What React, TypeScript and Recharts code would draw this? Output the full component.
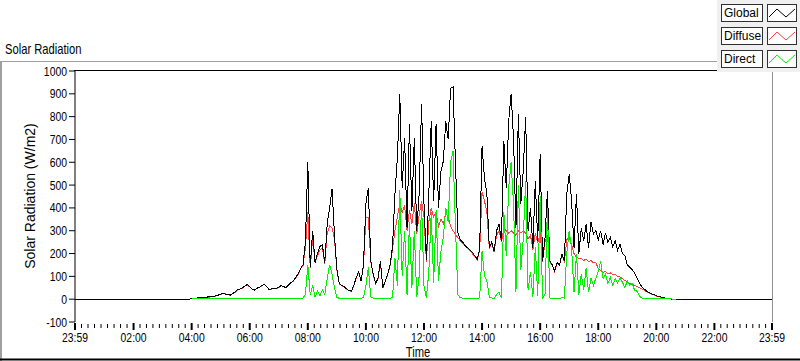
import React from 'react';
import { LineChart, Line, XAxis, YAxis } from 'recharts';

const FONT = "'Liberation Sans', Arial, sans-serif";
const NARROW = 0.8; // the original UI font is a narrow sans

// samples every 5 minutes, from 04:00 to 20:40
const startMinute = 240;
const stepMinutes = 5;

const globalWm2 = [
  2, 4, 5, 6, 8, 8, 9, 10, 10, 12, 15, 18, // 04
  22, 25, 22, 20, 18, 25, 32, 42, 45, 50, 58, 64, // 05
  55, 45, 40, 48, 52, 60, 66, 55, 42, 45, 48, 47, // 06
  52, 60, 55, 50, 62, 72, 80, 95, 110, 135, 150, 250, // 07
  600, 140, 300, 160, 200, 230, 240, 160, 330, 400, 484, 285, // 08
  130, 70, 60, 55, 45, 38, 35, 60, 95, 120, 80, 150, // 09
  420, 488, 170, 110, 70, 90, 165, 50, 80, 110, 150, 230, // 10
  460, 620, 899, 487, 706, 312, 767, 386, 706, 300, 460, 855, // 11
  420, 170, 460, 780, 430, 767, 400, 561, 605, 780, 700, 925, // 12
  930, 600, 290, 260, 250, 235, 225, 215, 205, 190, 175, 220, // 13
  670, 530, 460, 225, 250, 210, 300, 330, 254, 693, 487, 780, // 14
  900, 706, 312, 811, 417, 561, 800, 300, 400, 225, 518, 254, // 15
  636, 167, 268, 474, 167, 150, 123, 160, 150, 197, 167, 460, // 16
  548, 430, 225, 460, 200, 312, 254, 330, 225, 340, 285, 300, // 17
  260, 300, 240, 290, 250, 270, 230, 255, 215, 240, 200, 190, // 18
  150, 140, 130, 115, 95, 70, 55, 45, 35, 28, 24, 20, // 19
  15, 12, 9, 6, 4, 2, 1, 0, 0, // 20
];

const diffuseWm2 = [
  1, 3, 4, 5, 7, 8, 8, 9, 10, 11, 14, 17,
  21, 24, 23, 19, 17, 24, 31, 41, 44, 49, 57, 62,
  54, 44, 41, 47, 51, 59, 64, 56, 41, 44, 47, 46,
  51, 61, 54, 49, 61, 70, 79, 93, 108, 133, 145, 225,
  380, 135, 270, 158, 190, 215, 225, 155, 290, 320, 312, 265,
  128, 68, 59, 54, 44, 37, 34, 59, 93, 118, 79, 145,
  360, 360, 165, 108, 69, 88, 160, 49, 78, 108, 145, 220,
  300, 360, 420, 380, 410, 300, 390, 330, 420, 285, 370, 430,
  360, 165, 340, 400, 360, 380, 320, 350, 330, 380, 360, 320,
  300, 285, 270, 255, 245, 232, 222, 212, 200, 186, 172, 212,
  470, 430, 380, 220, 245, 205, 280, 300, 250, 310, 300, 290,
  300, 290, 280, 300, 290, 300, 290, 265, 280, 218, 290, 245,
  290, 165, 250, 280, 165, 148, 121, 157, 148, 190, 165, 260,
  270, 240, 200, 185, 178, 180, 170, 175, 165, 170, 160, 160,
  135, 125, 118, 120, 112, 115, 108, 110, 100, 98, 90, 82,
  75, 70, 65, 60, 55, 50, 45, 40, 33, 27, 22, 18,
  14, 11, 8, 5, 3, 2, 1, 0, 0,
];

const directWm2 = [
  2, 2, 2, 2, 2, 2, 2, 2, 2, 2, 2, 2,
  2, 2, 2, 2, 2, 2, 2, 2, 2, 2, 2, 2,
  2, 2, 2, 2, 2, 2, 2, 2, 2, 2, 2, 2,
  2, 2, 2, 2, 2, 2, 3, 3, 3, 4, 5, 20,
  150, 20, 60, 10, 35, 15, 40, 20, 90, 150, 110, 50,
  8, 4, 3, 3, 3, 3, 3, 3, 4, 5, 4, 6,
  60, 140, 10, 4, 3, 3, 5, 3, 2, 3, 4, 6,
  180, 60, 480, 100, 300, 20, 340, 50, 300, 10, 100, 420,
  60, 5, 120, 380, 70, 390, 80, 210, 270, 400, 340, 600,
  650, 320, 20, 6, 5, 5, 4, 4, 5, 4, 3, 6,
  210, 100, 80, 8, 5, 4, 20, 30, 5, 380, 190, 490,
  600, 420, 30, 500, 130, 260, 520, 40, 120, 10, 230, 15,
  450, 5, 20, 400, 5, 3, 3, 4, 3, 6, 5, 200,
  300, 220, 30, 200, 20, 110, 40, 137, 30, 92, 60, 92,
  120, 167, 90, 110, 70, 95, 60, 92, 70, 92, 75, 50,
  80, 60, 70, 40, 35, 15, 5, 3, 3, 3, 3, 3,
  3, 3, 3, 3, 3, 3, 2, 0, 0,
];

// night: only the global trace, flat at zero
const nightMinutes = [-1, 235, 1245, 1439];

const majorMinutes = [-1, 120, 240, 360, 480, 600, 720, 840, 960, 1080, 1200, 1320, 1439];
const majorLabels = ['23:59', '02:00', '04:00', '06:00', '08:00', '10:00', '12:00', '14:00', '16:00', '18:00', '20:00', '22:00', '23:59'];
const yTicks = [-100, 0, 100, 200, 300, 400, 500, 600, 700, 800, 900, 1000];

const legendItems = [
  { name: 'Global', color: '#000000' },
  { name: 'Diffuse', color: '#ff4040' },
  { name: 'Direct', color: '#00f000' },
];

type Row = { t: number; g: number; d?: number; s?: number };

const rows: Row[] = [];
nightMinutes.slice(0, 2).forEach((t) => rows.push({ t, g: 0 }));
globalWm2.forEach((g, i) => {
  rows.push({ t: startMinute + i * stepMinutes, g, d: diffuseWm2[i], s: directWm2[i] });
});
nightMinutes.slice(2).forEach((t) => rows.push({ t, g: 0 }));

// 8 minor ticks between each pair of labelled ticks
const allTicks: number[] = [];
majorMinutes.forEach((m, i) => {
  allTicks.push(m);
  const next = majorMinutes[i + 1];
  if (next === undefined) return;
  for (let k = 1; k < 9; k++) allTicks.push(m + ((next - m) * k) / 9);
});

function NarrowText({ x, y, size, anchor, children }: any) {
  return (
    <text
      transform={`translate(${x} ${y}) scale(${NARROW} 1)`}
      textAnchor={anchor}
      fontSize={size}
      fontFamily={FONT}
      fill="#000"
    >
      {children}
    </text>
  );
}

function TimeTick(props: any) {
  const { x, y, payload } = props;
  const idx = majorMinutes.indexOf(payload.value);
  if (idx < 0) {
    return <line x1={x} x2={x} y1={y + 2} y2={y + 6} stroke="#000" />;
  }
  return (
    <g>
      <line x1={x} x2={x} y1={y + 1} y2={y + 8} stroke="#000" strokeWidth={2} />
      <NarrowText x={x} y={y + 20} size={13} anchor="middle">{majorLabels[idx]}</NarrowText>
    </g>
  );
}

function ValueTick(props: any) {
  const { x, y, payload } = props;
  return <NarrowText x={x} y={y + 4.5} size={13} anchor="end">{payload.value}</NarrowText>;
}

export default function App() {
  return (
    <div style={{ position: 'absolute', left: 0, top: 0, width: 800, height: 361, background: '#fff', overflow: 'hidden' }}>
      <style>{`.recharts-line-curve{shape-rendering:crispEdges}`}</style>
      <LineChart width={800} height={361} data={rows} margin={{ top: 71, right: 28, bottom: 9, left: 0 }}>
        <XAxis
          dataKey="t"
          type="number"
          domain={[-1, 1439]}
          ticks={allTicks}
          interval={0}
          tick={TimeTick}
          tickLine={false}
          axisLine={false}
          tickSize={0}
          tickMargin={0}
          height={30}
        />
        <YAxis
          domain={[-100, 1000]}
          ticks={yTicks}
          interval={0}
          width={75}
          tickSize={6}
          tickMargin={2}
          axisLine={{ stroke: '#000' }}
          tickLine={{ stroke: '#000' }}
          tick={ValueTick}
        />
        <Line dataKey="d" stroke="#ff4040" strokeWidth={1} dot={false} isAnimationActive={false} />
        <Line dataKey="g" stroke="#000000" strokeWidth={1} dot={false} isAnimationActive={false} />
        <Line dataKey="s" stroke="#00f000" strokeWidth={1} dot={false} isAnimationActive={false} />
      </LineChart>

      <svg width={800} height={361} style={{ position: 'absolute', left: 0, top: 0, pointerEvents: 'none' }}>
        <NarrowText x={5} y={54} size={14} anchor="start">Solar Radiation</NarrowText>
        <line x1={0} x2={718} y1={61.5} y2={61.5} stroke="#a0a0a0" />
        <line x1={1} x2={1} y1={61} y2={361} stroke="#a0a0a0" strokeWidth={2} />
        <line x1={0} x2={800} y1={359.5} y2={359.5} stroke="#000" strokeWidth={2} />
        <line x1={74} x2={718} y1={70.5} y2={70.5} stroke="#000" />
        <line x1={772.5} x2={772.5} y1={71} y2={322} stroke="#909090" />
        <text
          x={0}
          y={0}
          transform="translate(35 196) rotate(-90)"
          textAnchor="middle"
          fontSize={14}
          fontFamily={FONT}
          fill="#000"
        >
          Solar Radiation (W/m2)
        </text>
        <NarrowText x={418} y={357} size={14} anchor="middle">Time</NarrowText>

        <rect x={717} y={0} width={83} height={72} fill="#f0f0f0" />
        {legendItems.map((it, i) => {
          const top = 4 + i * 23;
          return (
            <g key={it.name}>
              <rect x={721.5} y={top + 0.5} width={41} height={17} fill="#fff" stroke="#303030" />
              <text x={724} y={top + 13} fontSize={12} fontFamily={FONT} fill="#000">{it.name}</text>
              <rect x={767.5} y={top + 0.5} width={29} height={17} fill="#fff" stroke="#303030" />
              <polyline
                points={`${769},${top + 13} ${777},${top + 5} ${786},${top + 13} ${795},${top + 5}`}
                fill="none"
                stroke={it.color}
              />
            </g>
          );
        })}
      </svg>
    </div>
  );
}
